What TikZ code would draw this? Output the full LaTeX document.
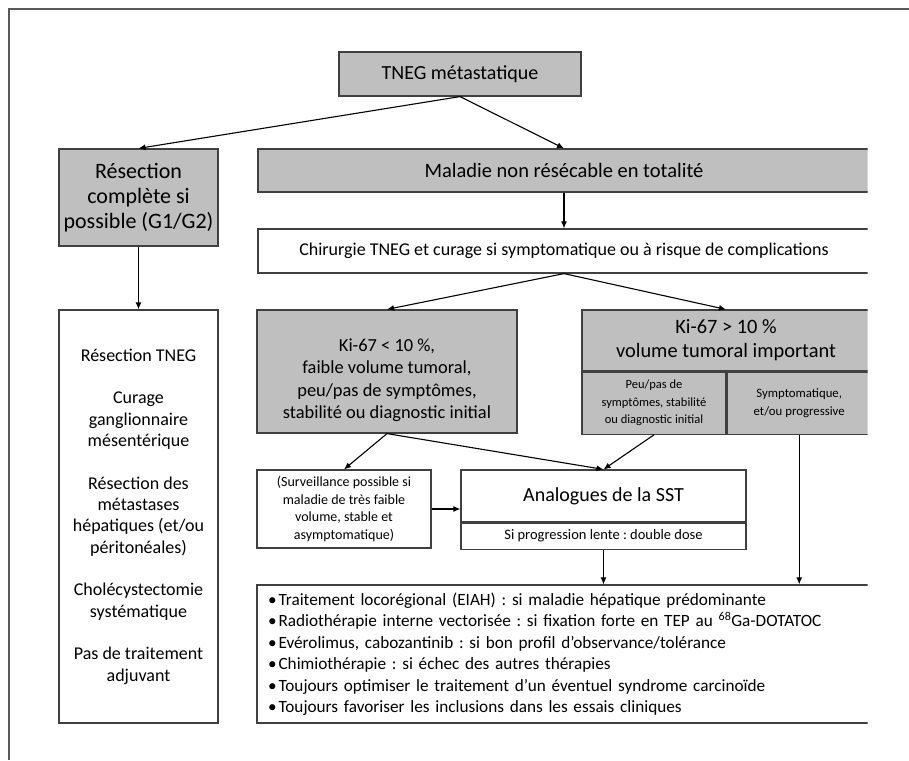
\documentclass[tikz,border=0pt]{standalone}
\usepackage{fontspec}
\setmainfont{Carlito}
\frenchspacing
\usetikzlibrary{arrows.meta, positioning}

\begin{document}
\begin{tikzpicture}[x=1pt, y=-1pt, >={Latex[length=7pt,width=6pt]}]
        \tikzstyle{box}=[rectangle, draw=black!75, line width=1.2pt, inner sep=0pt, align=center]
        \tikzstyle{grey box}=[box, fill=black!25]
        \tikzstyle{white box}=[box, fill=white]
        \tikzstyle{link}=[->, draw=black, line width=1.1pt]
        \tikzstyle{frame}=[draw=black!65, line width=1.8pt]

        \useasboundingbox (0,0) rectangle (909,760);

        % The right side of the chart is cut off
        \begin{scope}
        \clip (0,0) rectangle (867.5,760);

        % Top of the tree
        \node[grey box, minimum width=242, minimum height=44, font=\fontsize{20}{24}\selectfont] (tneg) at (460,74) {TNEG métastatique};

        % Left branch
        \node[grey box, minimum width=159, minimum height=97, font=\fontsize{22}{25}\selectfont] (res) at (138.5,197.5)
            {Résection\\complète si\\possible (G1/G2)};
        \node[white box, minimum width=159, minimum height=413, font=\fontsize{18}{21.33}\selectfont] (resList) at (138.5,516.5)
            {Résection TNEG\\[21.33pt]
             Curage\\ganglionnaire\\mésentérique\\[21.33pt]
             Résection des\\métastases\\hépatiques (et/ou\\péritonéales)\\[21.33pt]
             Cholécystectomie\\systématique\\[21.33pt]
             Pas de traitement\\adjuvant};

        % Right branch
        \node[grey box, minimum width=612, minimum height=43, font=\fontsize{20.5}{24}\selectfont] (mal) at (564,170.5)
            {Maladie non résécable en totalité};
        \node[white box, minimum width=612, minimum height=44, font=\fontsize{18}{21}\selectfont] (chir) at (564,251)
            {Chirurgie TNEG et curage si symptomatique ou à risque de complications};

        % Ki-67 split
        \node[grey box, minimum width=260, minimum height=123, font=\fontsize{18.4}{22.3}\selectfont] (ki1) at (387,371.5)
            {\rule{0pt}{30pt}Ki-67 < 10 \%,\\faible volume tumoral,\\peu/pas de symptômes,\\stabilité ou diagnostic initial};
        \node[grey box, minimum width=288, minimum height=61, font=\fontsize{20.4}{24}\selectfont] (ki2) at (726,340.5)
            {Ki-67 > 10 \%\\volume tumoral important};
        \node[grey box, minimum width=144, minimum height=62, anchor=north west, font=\fontsize{12.5}{17.5}\selectfont] (ki2L) at (ki2.south west)
            {Peu/pas de\\symptômes, stabilité\\ou diagnostic initial};
        \node[grey box, minimum width=144, minimum height=62, anchor=north west, font=\fontsize{12.8}{17.5}\selectfont] (ki2R) at (ki2L.north east)
            {Symptomatique,\\et/ou progressive};

        % Follow-up or SST analogues
        \node[white box, minimum width=174, minimum height=78, font=\fontsize{14}{17.7}\selectfont] (surv) at (344,509)
            {(Surveillance possible si\\maladie de très faible\\volume, stable et\\asymptomatique)};
        \node[white box, minimum width=285, minimum height=52, font=\fontsize{20}{24}\selectfont] (sst) at (603.5,496)
            {Analogues de la SST};
        \node[white box, minimum width=285, minimum height=26, anchor=north, font=\fontsize{14.5}{17}\selectfont] (sstNote) at (sst.south)
            {Si progression lente : double dose};

        % Treatment list
        \node[white box, text width=591, inner xsep=11pt, minimum height=138, align=left, font=\fontsize{17.2}{21.5}\selectfont] (trt) at (563.5,654)
            {•\hspace{2pt}Traitement locorégional (EIAH) : si maladie hépatique prédominante\\
             •\hspace{2pt}Radiothérapie interne vectorisée : si fixation forte en TEP au \textsuperscript{68}Ga-DOTATOC\\
             •\hspace{2pt}Evérolimus, cabozantinib : si bon profil d’observance/tolérance\\
             •\hspace{2pt}Chimiothérapie : si échec des autres thérapies\\
             •\hspace{2pt}Toujours optimiser le traitement d’un éventuel syndrome carcinoïde\\
             •\hspace{2pt}Toujours favoriser les inclusions dans les essais cliniques};

        % Connect the boxes
        \draw[link] (tneg.south) -- (res.north);
        \draw[link] (tneg.south) -- (mal.north);
        \draw[link] (res.south) -- (resList.north);
        \draw[link] (mal.south) -- (chir.north);
        \draw[link] (chir.south) -- (ki1.north);
        \draw[link] (chir.south) -- (ki2.north);
        \draw[link] (ki1.south) -- (surv.north);
        \draw[link] (ki1.south) -- (sst.north);
        \draw[link] (ki2L.south) -- (sst.north);
        \draw[link] (surv.east) -- (surv.east -| sst.west);
        \draw[link] (sstNote.south) -- (sstNote.south |- trt.north);
        \draw[link] (ki2R.south) -- (ki2R.south |- trt.north);
        \end{scope}

        % Page frame
        \draw[frame] (909,9) -- (9,9) -- (9,760);
\end{tikzpicture}
\end{document}
